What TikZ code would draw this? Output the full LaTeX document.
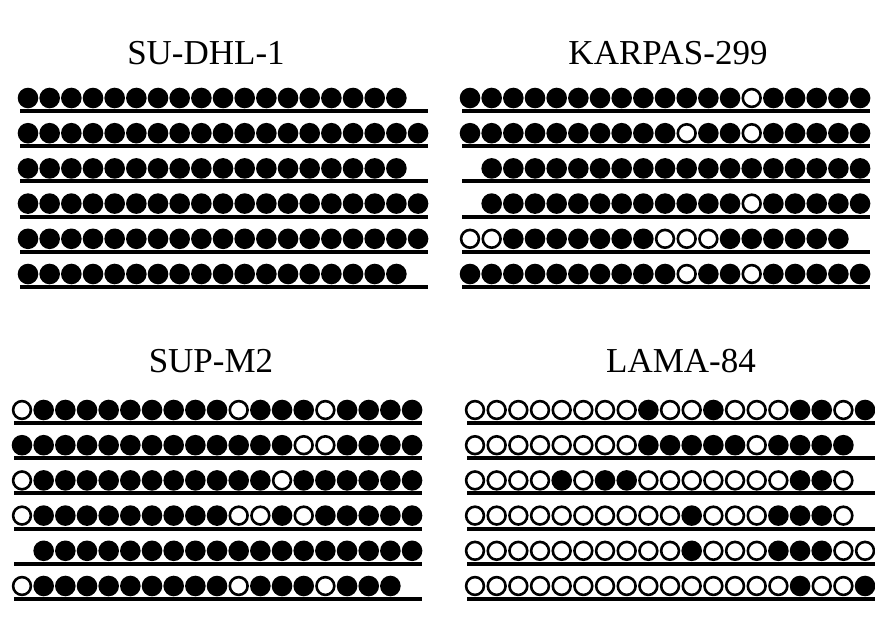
\documentclass[tikz,border=0pt]{standalone}
\usepackage{fontspec}
\setmainfont{Liberation Serif}
\usepackage{tikz}
\usetikzlibrary{positioning}

% one clone: first site x, strand y, states (1 methylated, 0 unmethylated, 2 no site)
\newcommand{\clonerow}[3]{%
  \draw[line width=4pt] (#1-8,#2) -- (#1+400,#2);
  \foreach \s [count=\i from 0] in {#3}{
    \ifnum\s=1 \fill[black] (#1+\i*21.67,#2-13) circle (10.3);\fi
    \ifnum\s=0 \draw[line width=2.6pt,fill=white] (#1+\i*21.67,#2-13) circle (8.9);\fi
  }%
}

\begin{document}
\begin{tikzpicture}[x=1pt,y=-1pt]
\useasboundingbox (0,0) rectangle (875,643);
\tikzset{cellline/.style={font=\fontsize{35}{40}\selectfont,inner sep=0pt}}

\node[cellline] (sudhl) at (206,53) {SU-DHL-1};
\node[cellline] (karpas) at (668,53) {KARPAS-299};
\node[cellline] (supm) at (211,361) {SUP-M2};
\node[cellline] (lama) at (681,361) {LAMA-84};

% SU-DHL-1
\clonerow{28}{111}{1,1,1,1,1,1,1,1,1,1,1,1,1,1,1,1,1,1,2}
\clonerow{28}{146.2}{1,1,1,1,1,1,1,1,1,1,1,1,1,1,1,1,1,1,1}
\clonerow{28}{181.4}{1,1,1,1,1,1,1,1,1,1,1,1,1,1,1,1,1,1,2}
\clonerow{28}{216.6}{1,1,1,1,1,1,1,1,1,1,1,1,1,1,1,1,1,1,1}
\clonerow{28}{251.8}{1,1,1,1,1,1,1,1,1,1,1,1,1,1,1,1,1,1,1}
\clonerow{28}{287}{1,1,1,1,1,1,1,1,1,1,1,1,1,1,1,1,1,1,2}

% KARPAS-299
\clonerow{470}{111}{1,1,1,1,1,1,1,1,1,1,1,1,1,0,1,1,1,1,1}
\clonerow{470}{146.2}{1,1,1,1,1,1,1,1,1,1,0,1,1,0,1,1,1,1,1}
\clonerow{470}{181.4}{2,1,1,1,1,1,1,1,1,1,1,1,1,1,1,1,1,1,1}
\clonerow{470}{216.6}{2,1,1,1,1,1,1,1,1,1,1,1,1,0,1,1,1,1,1}
\clonerow{470}{251.8}{0,0,1,1,1,1,1,1,1,0,0,0,1,1,1,1,1,1,2}
\clonerow{470}{287}{1,1,1,1,1,1,1,1,1,1,0,1,1,0,1,1,1,1,1}

% SUP-M2
\clonerow{22}{423}{0,1,1,1,1,1,1,1,1,1,0,1,1,1,0,1,1,1,1}
\clonerow{22}{458.2}{1,1,1,1,1,1,1,1,1,1,1,1,1,0,0,1,1,1,1}
\clonerow{22}{493.4}{0,1,1,1,1,1,1,1,1,1,1,1,0,1,1,1,1,1,1}
\clonerow{22}{528.6}{0,1,1,1,1,1,1,1,1,1,0,0,1,0,1,1,1,1,1}
\clonerow{22}{563.8}{2,1,1,1,1,1,1,1,1,1,1,1,1,1,1,1,1,1,1}
\clonerow{22}{599}{0,1,1,1,1,1,1,1,1,1,0,1,1,1,0,1,1,1,2}

% LAMA-84
\clonerow{475}{423}{0,0,0,0,0,0,0,0,1,0,0,1,0,0,0,1,1,0,1}
\clonerow{475}{458.2}{0,0,0,0,0,0,0,0,1,1,1,1,1,0,1,1,1,1,2}
\clonerow{475}{493.4}{0,0,0,0,1,0,1,1,0,0,0,0,0,0,0,1,1,0,2}
\clonerow{475}{528.6}{0,0,0,0,0,0,0,0,0,0,1,0,0,0,1,1,1,0,2}
\clonerow{475}{563.8}{0,0,0,0,0,0,0,0,0,0,1,0,0,0,1,1,1,0,0}
\clonerow{475}{599}{0,0,0,0,0,0,0,0,0,0,0,0,0,0,0,1,0,0,1}
\end{tikzpicture}
\end{document}
